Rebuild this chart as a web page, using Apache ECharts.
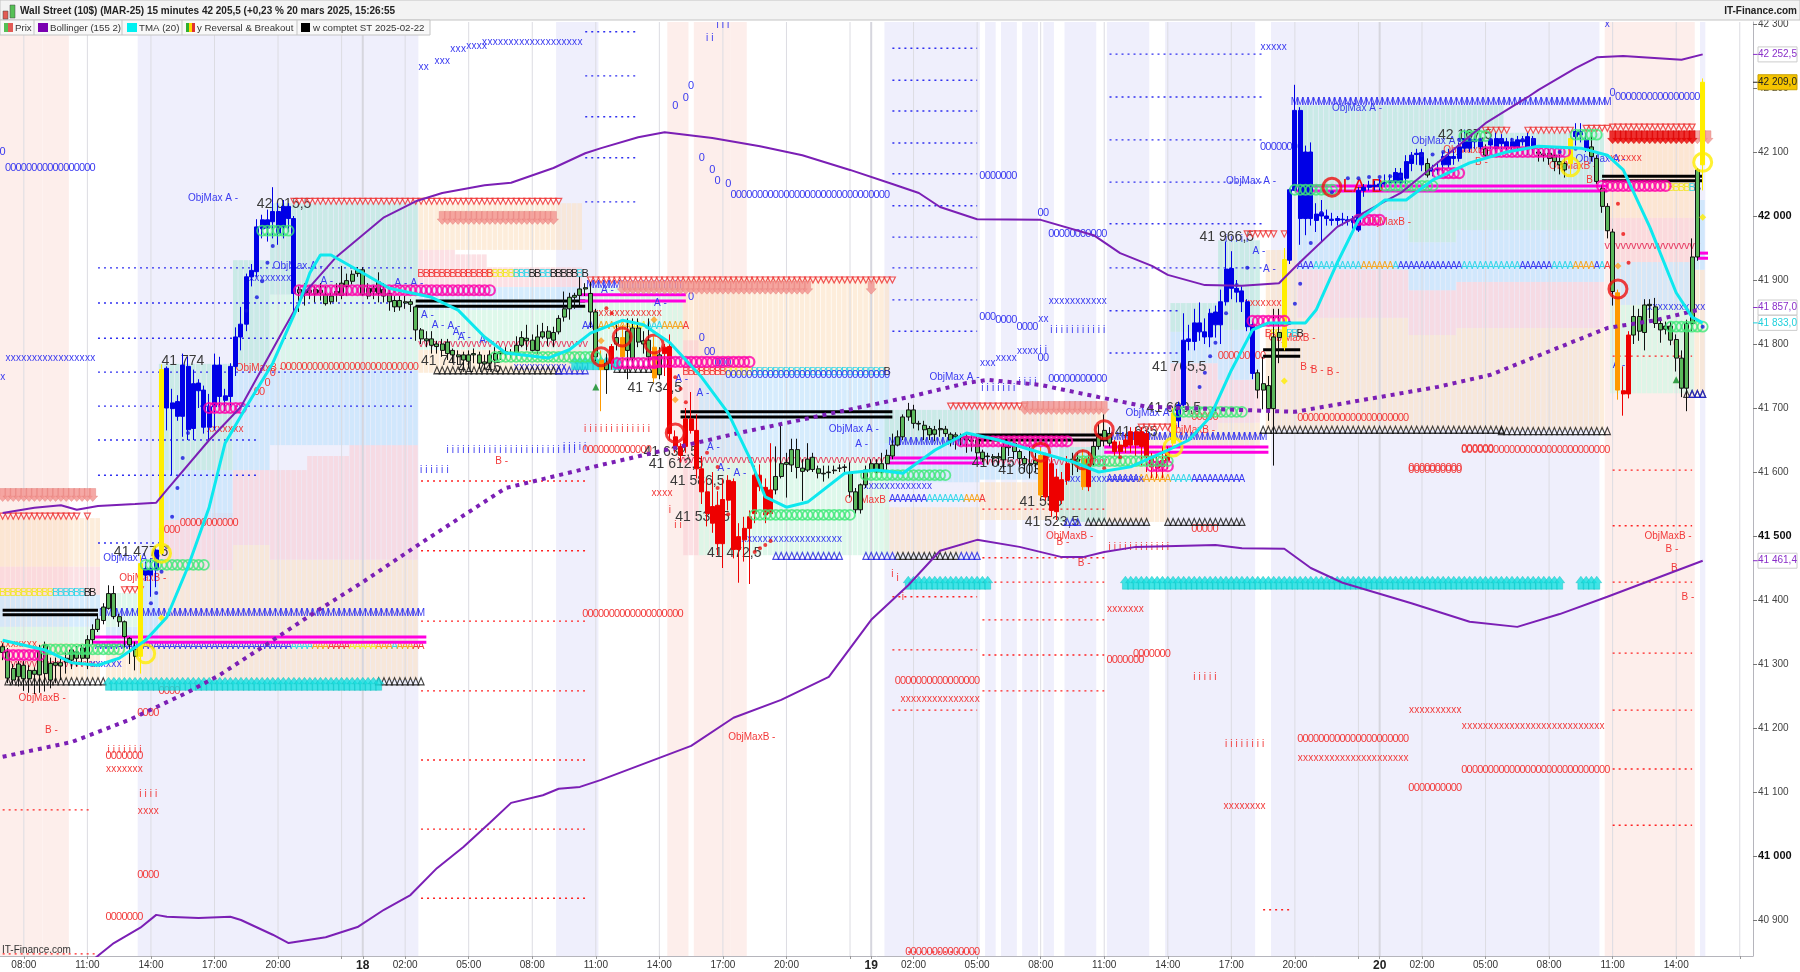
<!DOCTYPE html>
<html><head><meta charset="utf-8"><style>html,body{margin:0;padding:0;background:#fff}#c{width:1800px;height:972px}</style>
<script src="https://cdn.jsdelivr.net/npm/echarts@6/dist/echarts.min.js"></script></head><body><div id="c"></div>
<script>
// ---------- axes
const slotCount = 331;
const xTickIdx  = [4,16,28,40,52,64,68,76,88,100,112,124,136,148,160,164,172,184,196,208,220,232,244,256,260,268,280,292,304,316,328];
const xTickText = ['08:00','11:00','14:00','17:00','20:00','','18','02:00','05:00','08:00','11:00','14:00','17:00','20:00','','19','02:00','05:00','08:00','11:00','14:00','17:00','20:00','','20','02:00','05:00','08:00','11:00','14:00',''];
const yTicks = [40900,41000,41100,41200,41300,41400,41500,41600,41700,41800,41900,42000,42100,42200,42300];
const yBold  = [41000,41500,42000];
const priceTagValues = [42252.5,42209,41857,41833,41461.4];
const priceTagTexts  = ['42 252,5','42 209,0','41 857,0','41 833,0','41 461,4'];

// ---------- candles [open, close, low, high]
const candles17 = [[41327,41318,41306,41332],[41319,41278,41270,41325],[41275,41293,41268,41300],[41300,41280,41265,41305],[41298,41277,41258,41305],[41277,41290,41255,41298],[41290,41284,41253,41295],[41283,41319,41255,41330],[41330,41285,41257,41335],[41275,41301,41262,41310],[41298,41302,41270,41310],[41302,41297,41275,41312],[41303,41309,41285,41318],[41306,41322,41292,41325],[41309,41319,41296,41328],[41325,41309,41298,41330],[41309,41338,41292,41345],[41338,41354,41330,41362],[41354,41370,41350,41375],[41368,41389,41362,41395],[41387,41410,41385,41423],[41410,41374,41370,41422],[41374,41366,41358,41378],[41366,41343,41325,41368],[41340,41330,41300,41342],[41323,41312,41290,41335],[41312,41457,41285,41470],[41439,41449,41430,41460],[41439,41449,41405,41465],[41447,41478,41420,41482],[41473,41760,41470,41768],[41700,41762,41665,41765],[41699,41708,41595,41730],[41687,41710,41680,41720],[41687,41767,41655,41785],[41666,41765,41650,41780],[41668,41738,41650,41760],[41727,41739,41700,41745],[41670,41728,41660,41735],[41670,41702,41650,41722],[41702,41767,41665,41785],[41718,41767,41700,41780],[41712,41719,41695,41730],[41718,41765,41700,41770],[41765,41811,41750,41826],[41811,41831,41790,41858],[41831,41905,41820,41910],[41905,41915,41890,41925],[41913,41983,41905,41995],[41980,41994,41965,42002],[41981,41994,41960,42010],[41991,42007,41965,42045],[41973,42007,41955,42020],[41983,42015,41965,42025],[41996,42015,41975,42020],[41996,41879,41843,42000],[41885,41880,41850,41890],[41879,41884,41860,41895],[41880,41884,41870,41892],[41878,41885,41865,41890],[41880,41884,41868,41895],[41877,41863,41860,41890],[41866,41875,41862,41880],[41878,41882,41866,41895],[41876,41895,41870,41922],[41890,41899,41875,41910],[41898,41909,41893,41915],[41910,41916,41905,41920]];
const candles18 = [[41916,41877,41875,41920],[41875,41887,41870,41895],[41887,41882,41870,41892],[41897,41879,41865,41912],[41885,41875,41865,41895],[41879,41866,41852,41885],[41868,41858,41850,41875],[41858,41868,41852,41875],[41866,41864,41855,41875],[41866,41862,41850,41870],[41858,41822,41805,41860],[41822,41808,41800,41825],[41808,41805,41795,41820],[41808,41798,41785,41820],[41800,41796,41785,41805],[41800,41790,41780,41808],[41803,41785,41775,41808],[41790,41783,41770,41793],[41783,41780,41768,41790],[41783,41775,41765,41788],[41773,41783,41762,41790],[41783,41785,41770,41793],[41783,41770,41762,41788],[41772,41769,41760,41783],[41770,41783,41762,41790],[41775,41785,41770,41795],[41785,41788,41775,41795],[41788,41785,41778,41795],[41785,41784,41778,41792],[41785,41798,41780,41812],[41798,41810,41795,41820],[41809,41805,41790,41830],[41806,41790,41787,41815],[41790,41811,41785,41830],[41811,41819,41808,41833],[41820,41809,41797,41828],[41806,41818,41795,41827],[41819,41840,41815,41845],[41842,41855,41835,41882],[41855,41873,41838,41880],[41873,41876,41855,41880],[41876,41886,41860,41905],[41886,41888,41875,41895],[41879,41850,41825,41897],[41850,41780,41770,41855],[41775,41760,41695,41790],[41770,41760,41722,41785],[41796,41770,41760,41800],[41800,41810,41790,41830],[41810,41780,41770,41830],[41820,41790,41745,41840],[41778,41825,41770,41840],[41825,41803,41795,41840],[41805,41800,41785,41820],[41780,41806,41770,41840],[41795,41747,41740,41812],[41783,41752,41745,41795],[41795,41785,41750,41800],[41796,41660,41650,41815],[41655,41640,41630,41665],[41640,41626,41615,41645],[41683,41640,41630,41700],[41683,41665,41660,41725],[41665,41605,41590,41690],[41605,41569,41550,41625],[41569,41535,41515,41590],[41546,41520,41505,41600],[41548,41488,41470,41570],[41557,41488,41450,41590],[41587,41556,41540,41595],[41585,41479,41465,41590],[41499,41479,41427,41520],[41512,41494,41460,41530],[41530,41512,41425,41540],[41595,41535,41520,41610],[41595,41577,41570,41612],[41576,41533,41520,41590],[41572,41535,41530,41645],[41572,41593,41565,41640],[41593,41613,41590,41672],[41612,41615,41560,41630],[41611,41635,41600,41652],[41635,41607,41590,41652],[41606,41601,41555,41620],[41603,41620,41600,41645],[41623,41604,41600,41630],[41605,41598,41590,41610],[41598,41597,41585,41610],[41599,41600,41590,41610],[41602,41603,41597,41610],[41606,41606,41600,41612],[41607,41608,41600,41612],[41598,41569,41560,41615],[41569,41541,41535,41575],[41541,41580,41535,41582],[41580,41603,41575,41610]];
const candles19 = [[41603,41613,41600,41620],[41613,41600,41598,41620],[41600,41613,41597,41630],[41613,41626,41600,41635],[41625,41642,41620,41660],[41642,41655,41640,41665],[41655,41686,41650,41690],[41686,41697,41680,41708],[41697,41676,41668,41705],[41676,41675,41665,41680],[41673,41666,41650,41680],[41668,41658,41650,41672],[41659,41666,41648,41672],[41666,41668,41655,41682],[41667,41660,41655,41672],[41659,41650,41640,41662],[41658,41655,41635,41662],[41656,41654,41640,41660],[41655,41650,41630,41660],[41650,41648,41632,41658],[41650,41630,41620,41660],[41631,41621,41615,41635],[41625,41624,41612,41630],[41624,41622,41610,41628],[41622,41624,41610,41630],[41619,41640,41605,41648],[41640,41638,41625,41645],[41645,41632,41620,41650],[41632,41621,41608,41635],[41621,41613,41600,41625],[41613,41611,41590,41640],[41613,41618,41600,41630],[41626,41564,41560,41640],[41626,41561,41555,41630],[41613,41540,41530,41626],[41592,41538,41525,41605],[41588,41556,41550,41600],[41613,41587,41580,41625],[41618,41620,41595,41630],[41620,41617,41600,41630],[41621,41577,41572,41635],[41621,41577,41570,41632],[41621,41640,41610,41650],[41640,41655,41635,41675],[41650,41665,41640,41690],[41660,41645,41640,41670],[41647,41632,41625,41650],[41642,41632,41620,41648],[41650,41640,41630,41660],[41663,41642,41630,41670],[41663,41642,41625,41670],[41663,41640,41610,41670],[41660,41624,41600,41665],[41624,41608,41590,41630],[41616,41606,41590,41625],[41618,41608,41590,41640],[41630,41618,41605,41640],[41645,41692,41640,41700],[41680,41705,41670,41710],[41705,41806,41700,41848],[41804,41808,41790,41830],[41804,41833,41790,41855],[41819,41833,41805,41865],[41811,41819,41800,41840],[41811,41848,41795,41855],[41830,41850,41810,41860],[41830,41866,41800,41885],[41866,41917,41860,41960],[41887,41918,41870,41945],[41881,41887,41865,41900],[41866,41883,41850,41890],[41827,41866,41820,41870],[41830,41754,41745,41835],[41755,41728,41715,41760],[41728,41738,41698,41780],[41735,41699,41680,41750],[41699,41811,41610,41855],[41810,41818,41770,41855],[41795,41932,41790,41950],[41931,42041,41925,42043],[42040,42165,42040,42205],[41996,42165,41955,42170],[41996,42100,41970,42110],[41996,42100,41985,42115],[41993,42003,41975,42020],[42000,42005,41960,42025],[41996,42000,41985,42010],[41995,41993,41985,42005],[41993,41996,41985,42000],[41994,41995,41985,42005],[41992,41994,41985,42000],[41990,41994,41980,42000]];
const candles20 = [[41978,42040,41975,42045],[42040,42045,42030,42050],[42045,42048,42040,42055],[42048,42046,42040,42055],[42046,42050,42040,42058],[42050,42052,42045,42065],[42052,42055,42045,42065],[42053,42068,42045,42075],[42052,42067,42045,42075],[42059,42085,42050,42095],[42082,42095,42070,42100],[42096,42098,42080,42105],[42080,42099,42070,42105],[42064,42082,42060,42090],[42070,42072,42062,42080],[42072,42074,42065,42085],[42080,42093,42070,42100],[42080,42093,42075,42105],[42090,42093,42080,42105],[42090,42108,42085,42115],[42106,42121,42100,42135],[42106,42119,42100,42125],[42116,42119,42105,42125],[42108,42119,42100,42125],[42095,42105,42090,42112],[42111,42119,42105,42125],[42106,42121,42100,42130],[42113,42121,42105,42128],[42108,42116,42100,42122],[42108,42116,42100,42122],[42108,42119,42100,42125],[42116,42119,42110,42125],[42106,42124,42095,42130],[42106,42121,42098,42125],[42100,42098,42085,42105],[42095,42097,42085,42103],[42098,42090,42080,42105],[42095,42085,42070,42100],[42085,42080,42065,42095],[42082,42072,42060,42090],[42082,42121,42065,42125],[42124,42132,42110,42145],[42127,42132,42115,42145],[42106,42119,42100,42130],[42108,42093,42085,42130],[42090,42054,42050,42095],[42043,42015,42005,42048],[42015,41977,41965,42020],[41975,41882,41860,41980],[41880,41728,41713,41885],[41727,41722,41688,41765],[41814,41722,41715,41820],[41814,41843,41800,41860],[41843,41820,41805,41855],[41818,41861,41790,41870],[41860,41862,41840,41870],[41858,41832,41825,41872],[41832,41822,41802,41842],[41823,41828,41815,41835],[41828,41806,41798,41835],[41807,41778,41757,41815],[41778,41731,41717,41790],[41731,41832,41695,41838],[41832,41936,41820,41965],[41936,42072,41930,42075],[42080,42209,42040,42215]];
// candle body families, as [first, last] bar numbers
const blueBars   = [[27,29],[31,55],[222,236],[243,268],[270,279],[281,289],[297,299]];
const yellowBars = [[26,26],[30,30],[221,221],[242,242],[296,296],[321,321]];
const orangeBars = [[113,113],[117,117],[123,123],[196,196],[204,204],[305,305]];
const redBars    = [[115,115],[125,145],[197,201],[205,205],[210,220],[306,307]];

// ---------- indicator lines [bar, price]
const bollUpper = [[0,41536],[6,41544],[11,41548],[14,41541],[18,41547],[25,41550],[29,41552],[31,41572],[39,41650],[45,41702],[53,41822],[57,41880],[63,41936],[72,41998],[78,42023],[83,42036],[91,42048],[96,42052],[104,42075],[110,42098],[113,42106],[120,42123],[125,42131],[134,42122],[143,42109],[151,42095],[160,42072],[168,42050],[173,42036],[177,42014],[184,41995],[196,41994],[206,41970],[211,41942],[217,41922],[220,41908],[227,41892],[234,41891],[241,41895],[244,41920],[246,41936],[252,41983],[264,42036],[280,42145],[288,42186],[290,42197],[297,42231],[301,42248],[306,42250],[317,42244],[321,42252.5]];
const bollLower = [[15,40825],[18,40844],[21,40864],[26,40888],[29,40908],[31,40905],[37,40903],[43,40905],[45,40900],[51,40877],[54,40864],[61,40873],[67,40889],[72,40916],[77,40939],[82,40981],[87,41014],[92,41052],[96,41083],[102,41095],[105,41105],[109,41108],[113,41119],[130,41172],[138,41216],[147,41244],[156,41280],[164,41369],[171,41423],[177,41477],[184,41494],[192,41483],[200,41467],[204,41467],[208,41475],[214,41483],[229,41486],[234,41481],[242,41480],[247,41450],[253,41427],[266,41395],[277,41366],[286,41358],[294,41378],[303,41405],[310,41427],[321,41461.4]];
const bollMiddle = [[0,41155],[13,41178],[24,41213],[35,41256],[41,41283],[51,41337],[59,41381],[68,41428],[79,41489],[95,41575],[113,41611],[139,41661],[171,41717],[182,41739],[186,41744],[196,41736],[207,41717],[216,41702],[244,41694],[271,41733],[281,41752],[303,41825],[312,41837],[320,41853]];
const tmaLine = [[0,41337],[8,41322],[13,41302],[18,41298],[22,41309],[27,41337],[31,41373],[35,41452],[39,41545],[42,41645],[46,41702],[51,41770],[56,41864],[58,41911],[60,41939],[62,41939],[68,41911],[73,41887],[81,41873],[86,41853],[91,41811],[95,41786],[103,41778],[107,41791],[111,41817],[117,41837],[121,41830],[126,41802],[132,41748],[137,41692],[141,41623],[144,41561],[148,41545],[152,41553],[159,41598],[165,41603],[170,41598],[176,41634],[182,41661],[188,41650],[196,41630],[202,41616],[207,41600],[213,41608],[220,41634],[224,41650],[228,41686],[232,41759],[236,41822],[239,41833],[246,41833],[248,41853],[252,41927],[256,41994],[261,42025],[265,42025],[270,42056],[277,42083],[284,42100],[290,42109],[298,42106],[303,42095],[306,42072],[311,41983],[316,41880],[319,41842],[321,41833]];

// ---------- session shading [first bar, last bar]
const bandsLavender = [[26,78],[105,112],[167,184],[186,187],[189,191],[193,195],[197,198],[201,206],[209,216],[220,236],[240,301],[321,321]];
const bandsPink = [[0,7],[8,12],[126,129],[131,137],[138,140],[303,319]];

// ---------- target zones [first bar, last bar, top price, bottom price]
const zonesOrange = [[0,18,41528,41452],[0,18,41333,41275],[20,29,41338,41275],[30,43,41447,41275],[44,50,41486,41275],[51,78,41463,41275],[79,109,42020,41947],[79,109,41791,41755],[129,167,41903,41755],[167,184,41545,41473],[185,208,41702,41661],[185,208,41584,41525],[209,220,41661,41522],[221,229,41666,41640],[230,237,41677,41640],[239,244,41947,41666],[245,265,41841,41666],[266,274,41814,41666],[275,302,41825,41666],[304,319,42119,41997],[320,321,41916,41723]];
const zonesPink = [[0,18,41452,41408],[30,39,41525,41447],[40,43,41536,41447],[44,50,41603,41486],[51,57,41603,41463],[58,65,41625,41463],[66,78,41642,41463],[79,85,41947,41889],[86,91,41940,41889],[92,109,41920,41889],[129,131,41806,41470],[185,208,41661,41639],[221,229,41770,41666],[230,237,41744,41677],[245,265,41916,41841],[266,274,41884,41814],[275,302,41897,41825],[304,319,41997,41928]];
const zonesBlue = [[0,18,41408,41358],[20,29,41358,41338],[27,29,41460,41358],[30,43,41603,41525],[44,50,41759,41603],[51,78,41759,41642],[79,109,41889,41853],[132,167,41752,41623],[167,184,41645,41584],[185,208,41639,41588],[221,229,41819,41770],[230,237,41822,41744],[245,265,42009,41916],[266,274,41959,41884],[275,302,41978,41897],[304,319,41928,41861],[320,321,42025,41916]];
const zonesTeal = [[30,43,41769,41603],[44,50,41931,41759],[51,78,42020,41877],[167,184,41697,41645],[200,208,41639,41522],[221,229,41864,41819],[230,237,41962,41822],[245,265,42173,42009],[266,274,42173,41959],[275,283,42173,41978],[284,302,42130,41978]];
const zonesGreen = [[0,18,41358,41333],[20,26,41411,41358],[51,78,41877,41759],[79,109,41853,41791],[110,128,41889,41772],[132,167,41623,41470],[304,319,41861,41723]];

// ---------- horizontal levels [first bar, last bar, price]
const dottedBlue = [[18,78,41919],[18,78,41864],[18,78,41809],[18,78,41756],[18,78,41703],[18,48,41650],[18,48,41595],[18,30,41489],[110,120,42288],[110,120,42219],[110,120,42155],[110,120,42091],[110,120,42022],[168,184,42262],[168,184,42212],[168,184,42164],[168,184,42114],[168,184,42066],[168,184,42016],[168,184,41967],[168,184,41919],[168,184,41869],[168,184,41820],[209,238,42253],[209,238,42186],[209,238,42119],[209,238,42053],[209,238,41988],[209,238,41919],[209,222,41852],[209,222,41786]];
const dottedRed = [[0,17,41072],[0,18,40847],[79,110,41586],[79,110,41477],[79,110,41367],[79,110,41258],[79,110,41150],[79,110,41042],[79,110,40934],[168,184,41405],[168,184,41322],[168,184,41228],[171,184,40850],[185,208,41542],[185,208,41466],[185,208,41428],[185,208,41369],[185,208,41314],[185,208,41258],[238,243,40916],[304,319,41781],[304,319,41603],[304,319,41516],[304,319,41428],[304,319,41317],[304,319,41228],[304,319,41136],[304,319,41048]];
const blackBars = [[0,18,41384],[0,18,41377],[78,110,41867],[78,110,41859],[128,168,41694],[128,168,41686],[184,209,41658],[184,209,41650],[238,245,41791],[238,245,41781],[302,321,42062],[302,321,42055]];
const magentaBars = [[17,80,41342],[17,80,41334],[109,129,41877],[109,129,41867],[167,185,41622],[167,185,41614],[208,239,41639],[208,239,41631],[244,303,42047],[244,303,42039],[320,322,41942],[320,322,41934]];

// ---------- rows of letters [first bar, last bar, price]
const blueXRows = [[1,17,41777],[0,0,41748],[79,80,42233],[82,84,42242],[85,87,42261],[88,91,42266],[91,109,42272],[47,54,41903],[17,22,41300],[97,106,41764],[140,158,41495],[163,175,41577],[185,187,41770],[188,191,41777],[192,195,41788],[196,197,41838],[198,208,41867],[201,215,41588],[238,242,42264],[311,321,41858],[303,303,42300]];
const blueZeroRows = [[0,0,42100],[1,17,42075],[137,167,41752],[138,167,42033],[185,187,41842],[188,191,41838],[192,195,41827],[196,197,41778],[198,208,41745],[185,191,42062],[196,197,42005],[198,208,41972],[238,244,42108],[305,320,42186],[304,304,42192],[130,130,41873],[132,132,41809],[133,134,41788],[135,137,41770],[132,132,42091],[134,134,42072],[135,135,42055],[137,137,42050],[127,127,42172],[129,129,42184],[130,130,42203]];
const blueIRows = [[84,108,41634],[79,84,41603],[106,110,41639],[117,128,41892],[198,208,41822],[196,197,41791],[185,191,41731],[192,195,41741],[231,235,41964],[133,134,42278],[135,137,42298]];
const blueMRows = [[19,79,41380],[244,303,42178],[168,181,41647],[209,238,41655],[111,116,41892]];
const redVRows = [[79,110,41800],[128,167,41619],[303,320,41953],[185,208,41616],[1,17,41300]];
const redZeroRows = [[30,33,41509],[34,44,41520],[53,78,41764],[51,51,41755],[50,50,41739],[48,49,41725],[30,33,41258],[26,29,41223],[20,26,41156],[26,29,40970],[20,26,40905],[110,128,41378],[110,122,41634],[245,265,41684],[276,281,41636],[266,275,41606],[230,238,41781],[225,229,41686],[266,275,41603],[276,303,41634],[245,265,41183],[266,275,41106],[276,303,41134],[169,184,41273],[209,215,41306],[214,220,41316],[225,229,41511],[171,184,40850],[316,316,41800]];
const redXRows = [[0,6,41331],[39,45,41667],[20,26,41136],[26,29,41070],[112,124,41848],[123,126,41567],[304,309,42091],[235,241,41864],[170,184,41245],[231,238,41077],[209,215,41386],[266,275,41228],[276,302,41202],[245,265,41153]];
const redIRows = [[110,122,41667],[20,26,41166],[26,29,41097],[231,238,41175],[209,220,41483],[225,229,41280],[126,126,41541],[127,128,41517],[168,168,41441],[169,169,41434],[170,170,41405]];
const aBlueRows = [[18,54,41327],[110,112,41827],[168,174,41558],[209,214,41588],[225,234,41588],[245,247,41922],[264,275,41922],[287,292,41922],[301,301,41922]];
const aCyanRows = [[55,58,41327],[74,74,41327],[122,124,41827],[175,181,41558],[221,224,41588],[248,256,41922],[263,263,41922],[276,286,41922],[293,296,41922],[302,302,41922]];
const aOrangeRows = [[59,61,41327],[71,73,41327],[75,77,41327],[113,118,41827],[125,128,41827],[182,184,41558],[215,220,41588],[257,262,41922],[297,300,41922]];
const aRedRows = [[62,65,41327],[78,79,41327],[129,129,41827],[185,185,41558],[303,303,41922]];
const aYellowRows = [[66,70,41327],[119,121,41827]];
const bYellowRows = [[0,9,41411],[92,97,41909],[137,141,41756],[315,318,42044],[240,242,41816]];
const bCyanRows = [[10,15,41411],[97,99,41909],[102,103,41909],[109,109,41909],[142,166,41756],[319,319,42044],[243,244,41816]];
const bBlackRows = [[16,17,41411],[100,101,41909],[104,108,41909],[110,110,41909],[167,167,41756],[320,320,42044],[245,245,41816]];
const bRedRows = [[79,92,41909],[129,136,41756],[239,239,41816]];

// ---------- rows of marks [first bar, last bar, price]
const redDownTriangles = [[55,67,42023],[68,105,42023],[0,14,41531],[16,16,41531],[23,26,41416],[111,168,41900],[179,179,41703],[180,193,41703],[215,221,41670],[235,240,41972],[242,242,41972],[280,284,42134],[288,296,42134],[299,303,42137],[304,319,42139]];
const salmonArrows = [[0,17,41564],[83,104,41997],[117,152,41888],[164,164,41888],[193,208,41700],[319,322,42123]];
const strongRedArrows = [[304,319,42123]];
const cyanArrows = [[20,71,41269],[108,116,41770],[171,186,41427],[212,294,41427],[298,301,41427]];
const blackTriangles = [[1,19,41273],[71,79,41273],[82,105,41759],[116,123,41761],[169,180,41469],[205,216,41522],[220,234,41522],[238,283,41666],[283,303,41664],[318,321,41722]];
const blueTriangles = [[105,110,41759],[146,158,41469],[163,168,41469],[181,184,41469],[201,203,41522],[319,321,41722]];
const magentaRings = [[1,7,41314],[56,92,41884],[116,123,41770],[123,141,41772],[39,45,41700],[181,201,41648],[236,242,41836],[271,275,42067],[280,295,42100],[302,314,42047],[256,260,41994],[217,220,41609]];
const greenRings = [[8,22,41323],[27,38,41455],[49,54,41977],[93,112,41780],[142,160,41533],[163,178,41595],[203,220,41617],[222,234,41694],[244,251,42041],[261,270,42047],[276,280,42125],[297,301,42127],[315,321,41827]];

// ---------- single marks [bar, price]
const redBigRings = [[251,42045],[305,41886],[117,41811],[123,41800],[127,41661],[113,41780],[196,41631],[204,41619],[208,41666]];
const yellowBigRings = [[30,41473],[27,41316],[296,42077],[321,42084],[221,41639]];
const blueDots = [[30,41444],[28,41395],[29,41411],[31,41483],[32,41530],[33,41575],[34,41622],[35,41661],[46,41852],[48,41873],[49,41898],[50,41927],[51,41953],[226,41733],[227,41755],[228,41781],[229,41802],[231,41848],[233,41892],[235,41919],[243,41833],[244,41863],[245,41894],[247,41958],[249,42005],[251,42037],[254,42059],[256,42059],[258,42061],[260,42061],[262,42062],[264,42062],[266,42092],[268,42095],[270,42096],[272,42100],[275,42119],[277,42119],[279,42119],[281,42119],[283,42119],[285,42119],[287,42119],[289,42119],[294,42100],[297,42105],[321,41827]];
const redDots = [[114,41856],[115,41848],[127,41748],[128,41730],[129,41709],[133,41630],[135,41608],[135,41575],[137,41534],[142,41475],[143,41481],[144,41486],[145,41492],[208,41606],[211,41623],[305,42019],[306,41972],[307,41927]];
const greenTriangles = [[112,41733],[316,41744]];
const yellowDiamonds = [[30,41372],[242,41742],[321,41998]];
const orangeDiamonds = [[113,41805],[123,41838],[127,41713],[305,41922]];

// ---------- annotations [bar, price, text]
const priceNotes = [[30,41773,'41 774'],[21,41475,'41 477,5'],[48,42019,'42 015,5'],[79,41773,'41 741'],[86,41762,'41 745'],[118,41731,'41 734,5'],[121,41631,'41 632,5'],[122,41612,'41 612,5'],[126,41586,'41 586,5'],[127,41530,'41 530,5'],[133,41473,'41 472,5'],[217,41764,'41 765,5'],[226,41967,'41 966,5'],[271,42127,'42 167,5'],[192,41553,'41 555'],[193,41522,'41 523,5'],[188,41603,'41 603'],[183,41614,'41 615'],[216,41700,'41 669,5'],[210,41663,'41 635']];
const signalNotes = [[253,42045,'LA B']];
const objMaxA = [[35,42027],[51,41922],[19,41466],[156,41667],[175,41748],[231,42055],[251,42169],[266,42117],[297,42088],[212,41692]];
const objMaxB = [[3,41247],[22,41434],[44,41762],[159,41556],[197,41500],[239,41809],[257,41991],[272,42103],[292,42078],[310,41500],[220,41666],[137,41186]];
const notesA = [[60,41898],[74,41895],[77,41895],[79,41845],[81,41830],[84,41827],[85,41819],[86,41811],[90,41806],[113,41884],[123,41863],[127,41745],[131,41723],[133,41639],[135,41606],[138,41598],[161,41644],[236,41945],[238,41917],[304,41767]];
const notesB = [[8,41197],[314,41480],[315,41450],[317,41405],[278,42084],[299,42056],[93,41617],[203,41458],[199,41491],[245,41763],[247,41759],[250,41756]];

// ---------- build
const FONT = '"Liberation Sans", Arial, sans-serif';
const BLUE='#3a3af0', RED='#f23a3a', BLACK='#222', CYAN='#35d6e8', ORANGE='#f5a623', YELLOW='#f2e62c', PURPLE='#7b1fb5';
const candles = candles17.concat(candles18, candles19, candles20);
const inRuns = (runs,i) => runs.some(r => i>=r[0] && i<=r[1]);
function bodyStyle(i){
  const solid = c => ({color:c,color0:c,borderColor:c,borderColor0:c,borderWidth:1});
  if (inRuns(yellowBars,i)) return solid('#ffee00');
  if (inRuns(orangeBars,i)) return solid('#ff9a00');
  if (inRuns(redBars,i))    return solid('#ee0000');
  if (inRuns(blueBars,i))   return solid('#0000e6');
  return {color:'#5bb85b',color0:'#d9655f',borderColor:'#111',borderColor0:'#111',borderWidth:1};
}
const candleData = candles.map((c,i)=>({value:c,itemStyle:bodyStyle(i)}));
const cats = Array.from({length:slotCount},(_,i)=>String(i));
const tickText = new Map(xTickIdx.map((t,k)=>[t,xTickText[k]]));
const tickSet = new Set(xTickIdx);
const YMAX=42303.125, YMIN=40843.75;

function expand(runs){const o=[];runs.forEach(r=>{for(let i=r[0];i<=r[1];i++)o.push([i,r[2]]);});return o;}
const glyphs=[];
function addGlyphs(runs,ch,color,size){expand(runs).forEach(p=>glyphs.push({i:p[0],p:p[1],ch,color,size}));}
addGlyphs(aBlueRows,'A',BLUE,10);addGlyphs(aCyanRows,'A',CYAN,10);addGlyphs(aOrangeRows,'A',ORANGE,10);addGlyphs(aRedRows,'A',RED,10);addGlyphs(aYellowRows,'A',YELLOW,10);
addGlyphs(bYellowRows,'B',YELLOW,11);addGlyphs(bCyanRows,'B',CYAN,11);addGlyphs(bBlackRows,'B',BLACK,11);addGlyphs(bRedRows,'B',RED,11);
addGlyphs(blueMRows,'M',BLUE,10);addGlyphs(redVRows,'v',"#e63c64",11);
addGlyphs(blueXRows,'x',BLUE,10);addGlyphs(blueZeroRows,'0',BLUE,11);addGlyphs(blueIRows,'i',BLUE,10);
addGlyphs(redZeroRows,'0',RED,11);addGlyphs(redXRows,'x',RED,10);addGlyphs(redIRows,'i',RED,10);

function customLayer(data,render,extra){return Object.assign({type:'custom',data,renderItem:render,encode:{x:0,y:1},silent:true,clip:true,animation:false},extra||{});}
const bandW = api => api.size([1,0])[0];
function spanRender(color){return (p,api)=>{const a=api.coord([api.value(0),YMAX]),b=api.coord([api.value(1),YMIN]),w=bandW(api);
  return {type:'rect',shape:{x:a[0]-w/2,y:a[1],width:b[0]-a[0]+w,height:b[1]-a[1]},style:{fill:color}};};}
function zoneBars(z){const o=[];z.forEach(r=>{for(let i=r[0];i<=r[1];i++)o.push([i,r[2],r[3]]);});return o;}
function zoneRender(color){return (p,api)=>{const a=api.coord([api.value(0),api.value(1)]),b=api.coord([api.value(0),api.value(2)]),w=bandW(api);
  return {type:'rect',shape:{x:a[0]-w/2,y:a[1],width:w-0.6,height:b[1]-a[1]},style:{fill:color}};};}
function levelRender(color,width,dash){return (p,api)=>{const a=api.coord([api.value(0),api.value(2)]),b=api.coord([api.value(1),api.value(2)]);
  return {type:'line',shape:{x1:a[0],y1:a[1],x2:b[0],y2:b[1]},style:{stroke:color,lineWidth:width,lineDash:dash||null}};};}
const toLevel = r => [r[0],r[1],r[2]];
function rowScatter(runs,o){return Object.assign({type:'scatter',data:expand(runs),silent:true,animation:false},o);}
function ptScatter(pts,o){return Object.assign({type:'scatter',data:pts,silent:true,animation:false},o);}
function notesLayer(arr,text,color,size){return customLayer(arr.map(a=>[a[0],a[1]]),(p,api)=>{const c=api.coord([api.value(0),api.value(1)]);const t=text||arr[p.dataIndex][2];
  return {type:'text',style:{text:t,x:c[0],y:c[1],fill:color,font:size+'px '+FONT,align:'left',verticalAlign:'middle'}};},{clip:false});}
const DOWN='path://M2,0 L8,0 L8,7 L10,7 L5,12 L0,7 L2,7 Z', UP='path://M5,0 L10,6 L8,6 L8,12 L2,12 L2,6 L0,6 Z';

const series=[
 customLayer(bandsLavender,spanRender('#efeffc')),
 customLayer(bandsPink,spanRender('#fdeeeb')),
 customLayer(zoneBars(zonesOrange),zoneRender('rgba(252,225,195,0.6)')),
 customLayer(zoneBars(zonesPink),zoneRender('rgba(250,205,212,0.6)')),
 customLayer(zoneBars(zonesBlue),zoneRender('rgba(196,228,252,0.7)')),
 customLayer(zoneBars(zonesTeal),zoneRender('rgba(190,232,224,0.75)')),
 customLayer(zoneBars(zonesGreen),zoneRender('rgba(214,246,230,0.8)')),
 customLayer(xTickIdx.map(i=>[i,YMAX]),(p,api)=>{const a=api.coord([api.value(0),YMAX]),b=api.coord([api.value(0),YMIN]);const big=tickText.get(api.value(0)).length===2;
   return {type:'line',shape:{x1:a[0],y1:a[1],x2:b[0],y2:b[1]},style:{stroke:big?'#d6d6de':'#dcdce2',lineWidth:big?2:1}};}),
 customLayer(dottedBlue.map(toLevel),levelRender('#2f2ff0',1.4,[2,4])),
 customLayer(dottedRed.map(toLevel),levelRender('#f22',1.4,[2,4])),
 customLayer(glyphs.map(g=>[g.i,g.p]),(p,api)=>{const g=glyphs[p.dataIndex];const c=api.coord([g.i,g.p]);
   return {type:'text',style:{text:g.ch,x:c[0],y:c[1],fill:g.color,font:g.size+'px '+FONT,align:'center',verticalAlign:'middle'}};}),
 rowScatter(blackTriangles,{symbol:'triangle',symbolSize:[6,7],itemStyle:{color:'rgba(0,0,0,0)',borderColor:'#111',borderWidth:1.2}}),
 rowScatter(blueTriangles,{symbol:'triangle',symbolSize:[6,7],itemStyle:{color:'rgba(0,0,0,0)',borderColor:'#2222dd',borderWidth:1.2}}),
 rowScatter(redDownTriangles,{symbol:'triangle',symbolRotate:180,symbolSize:[6,6],itemStyle:{color:'rgba(255,255,255,0.4)',borderColor:'#ee2a2a',borderWidth:1.2}}),
 rowScatter(salmonArrows,{symbol:DOWN,symbolSize:[10,13],itemStyle:{color:'#f2928e',borderColor:'#e07a76',borderWidth:0.5}}),
 rowScatter(strongRedArrows,{symbol:DOWN,symbolSize:[10,13],itemStyle:{color:'#e80000',borderColor:'#c00',borderWidth:0.5}}),
 rowScatter(cyanArrows,{symbol:UP,symbolSize:[10,13],itemStyle:{color:'#14e0e0',borderColor:'#10b8b8',borderWidth:0.5}}),
 customLayer(blackBars.map(toLevel),levelRender('#000',3)),
 customLayer(magentaBars.map(toLevel),levelRender('#ff00e0',3)),
 {type:'candlestick',data:candleData,barWidth:4.5,silent:true,animation:false},
 {type:'line',data:bollUpper,showSymbol:false,silent:true,animation:false,lineStyle:{color:PURPLE,width:2}},
 {type:'line',data:bollLower,showSymbol:false,silent:true,animation:false,clip:true,lineStyle:{color:PURPLE,width:2}},
 {type:'line',data:bollMiddle,showSymbol:false,silent:true,animation:false,lineStyle:{color:PURPLE,width:4,type:[4,5]}},
 {type:'line',data:tmaLine,showSymbol:false,silent:true,animation:false,lineStyle:{color:'#0ee8ee',width:3}},
 rowScatter(magentaRings,{symbol:'circle',symbolSize:10,itemStyle:{color:'rgba(0,0,0,0)',borderColor:'#f0a',borderWidth:2.2}}),
 rowScatter(greenRings,{symbol:'circle',symbolSize:10,itemStyle:{color:'rgba(0,0,0,0)',borderColor:'#3ee878',borderWidth:1.8}}),
 ptScatter(blueDots,{symbol:'circle',symbolSize:4,itemStyle:{color:'#1515e0'}}),
 ptScatter(redDots,{symbol:'circle',symbolSize:4,itemStyle:{color:'#ee1111'}}),
 ptScatter(greenTriangles,{symbol:'triangle',symbolSize:7,itemStyle:{color:'#0a8a20'}}),
 ptScatter(yellowDiamonds,{symbol:'diamond',symbolSize:7,itemStyle:{color:'#ffee00'}}),
 ptScatter(orangeDiamonds,{symbol:'diamond',symbolSize:7,itemStyle:{color:'#ffa020'}}),
 ptScatter(redBigRings,{symbol:'circle',symbolSize:18,itemStyle:{color:'rgba(0,0,0,0)',borderColor:'#ee1010',borderWidth:3}}),
 ptScatter(yellowBigRings,{symbol:'circle',symbolSize:18,itemStyle:{color:'rgba(0,0,0,0)',borderColor:'#ffee00',borderWidth:3}}),
 notesLayer(objMaxA,'ObjMax A -','#3a3af0',10),
 notesLayer(objMaxB,'ObjMaxB -','#f23a3a',10),
 notesLayer(notesA,'A -','#3a3af0',10),
 notesLayer(notesB,'B -','#f23a3a',10),
 notesLayer(signalNotes,null,'#ee1010',19),
 notesLayer(priceNotes,null,'#3a3a3a',14),
 customLayer(priceTagValues.map(v=>[slotCount-1,v]),(p,api)=>{
   const y=api.coord([0,api.value(1)])[1], k=p.dataIndex, x=1753;
   const col=['#8a2fc9','#222','#8a2fc9','#1fd0dc','#8a2fc9'][k], fill=k===1?'#f5c400':'#fff', border=k===1?'#c9a000':'#ccc';
   return {type:'group',children:[
     {type:'line',shape:{x1:x,y1:y,x2:x+5,y2:y},style:{stroke:col,lineWidth:1}},
     {type:'rect',shape:{x:x+5,y:y-7.5,width:39,height:15},style:{fill,stroke:border,lineWidth:1}},
     {type:'text',style:{text:priceTagTexts[k],x:x+24.5,y:y,fill:col,font:'10px '+FONT,align:'center',verticalAlign:'middle'}}]};
 },{clip:false,z:10}),
];

const option={
 animation:false,backgroundColor:'#fff',
 grid:{left:0,top:22,width:1753,height:934,containLabel:false},
 xAxis:{type:'category',data:cats,boundaryGap:true,
   axisLine:{lineStyle:{color:'#b5b5bc'}},
   axisTick:{show:true,alignWithLabel:true,length:3,interval:(i)=>tickSet.has(i),lineStyle:{color:'#999'}},
   axisLabel:{interval:(i)=>tickSet.has(i),hideOverlap:false,margin:4,fontFamily:FONT,fontSize:10,color:'#333',
     formatter:(v,i)=>{const t=tickText.get(i)||'';return t.length===2?'{d|'+t+'}':t;},
     rich:{d:{fontWeight:'bold',fontSize:12,fontFamily:FONT,color:'#222'}}},
   splitLine:{show:false}},
 yAxis:{type:'value',position:'right',min:YMIN,max:YMAX,scale:true,
   axisLine:{show:true,lineStyle:{color:'#b5b5bc'}},
   axisTick:{show:true,length:4,customValues:yTicks,lineStyle:{color:'#777'}},
   axisLabel:{customValues:yTicks,margin:5,fontFamily:FONT,fontSize:10,color:'#444',
     formatter:v=>{const s=String(v);const t=s.slice(0,2)+' '+s.slice(2);return yBold.includes(v)?'{b|'+t+'}':t;},
     rich:{b:{fontWeight:'bold',fontSize:11,fontFamily:FONT,color:'#111'}}},
   splitLine:{show:false}},
 series,
 graphic:{elements:[
   {type:'rect',silent:true,z:100,shape:{x:0,y:0,width:1800,height:20},style:{fill:'#f3f3f3',stroke:'#c4c4c4',lineWidth:1}},
   {type:'rect',silent:true,z:101,shape:{x:3,y:11,width:5,height:8},style:{fill:'#e25b55',stroke:'#444',lineWidth:0.5}},
   {type:'rect',silent:true,z:101,shape:{x:10,y:5,width:5,height:13},style:{fill:'#55c055',stroke:'#444',lineWidth:0.5}},
   {type:'text',silent:true,z:101,style:{x:20,y:11,text:'Wall Street (10$) (MAR-25) 15 minutes 42 205,5 (+0,23 % 20 mars 2025, 15:26:55',font:'600 10px '+FONT,fill:'#222',verticalAlign:'middle'}},
   {type:'text',silent:true,z:101,style:{x:1797,y:11,text:'IT-Finance.com',font:'600 10px '+FONT,fill:'#222',align:'right',verticalAlign:'middle'}},
   {type:'rect',silent:true,z:100,shape:{x:0,y:20,width:430,height:15},style:{fill:'#f8f8f8',stroke:'#c4c4c4',lineWidth:1}},
   ...[34,122,182,297].map(x=>({type:'line',silent:true,z:101,shape:{x1:x,y1:20,x2:x,y2:35},style:{stroke:'#c4c4c4'}})),
   {type:'rect',silent:true,z:101,shape:{x:4,y:23,width:4,height:9},style:{fill:'#55c055'}},
   {type:'rect',silent:true,z:101,shape:{x:8,y:23,width:5,height:9},style:{fill:'#e25b55'}},
   {type:'rect',silent:true,z:101,shape:{x:38,y:23,width:10,height:9},style:{fill:'#7a00b0'}},
   {type:'rect',silent:true,z:101,shape:{x:127,y:23,width:10,height:9},style:{fill:'#00f0f0'}},
   {type:'rect',silent:true,z:101,shape:{x:186,y:23,width:3,height:9},style:{fill:'#2fb02f'}},
   {type:'rect',silent:true,z:101,shape:{x:189,y:23,width:3,height:9},style:{fill:'#ffd800'}},
   {type:'rect',silent:true,z:101,shape:{x:192,y:23,width:3,height:9},style:{fill:'#e03030'}},
   {type:'rect',silent:true,z:101,shape:{x:301,y:23,width:9,height:9},style:{fill:'#000'}},
   ...[[15,'Prix'],[50,'Bollinger (155 2)'],[139,'TMA (20)'],[197,'y Reversal & Breakout'],[313,'w comptet ST 2025-02-22']].map(t=>({type:'text',silent:true,z:101,style:{x:t[0],y:28,text:t[1],font:'9.7px '+FONT,fill:'#333',verticalAlign:'middle'}})),
   {type:'text',silent:true,z:101,style:{x:2,y:950,text:'IT-Finance.com',font:'10px '+FONT,fill:'#333',verticalAlign:'middle'}}
 ]}
};
const chart=echarts.init(document.getElementById('c'),null,{renderer:'canvas',width:1800,height:972});
chart.setOption(option);
</script></body></html>
